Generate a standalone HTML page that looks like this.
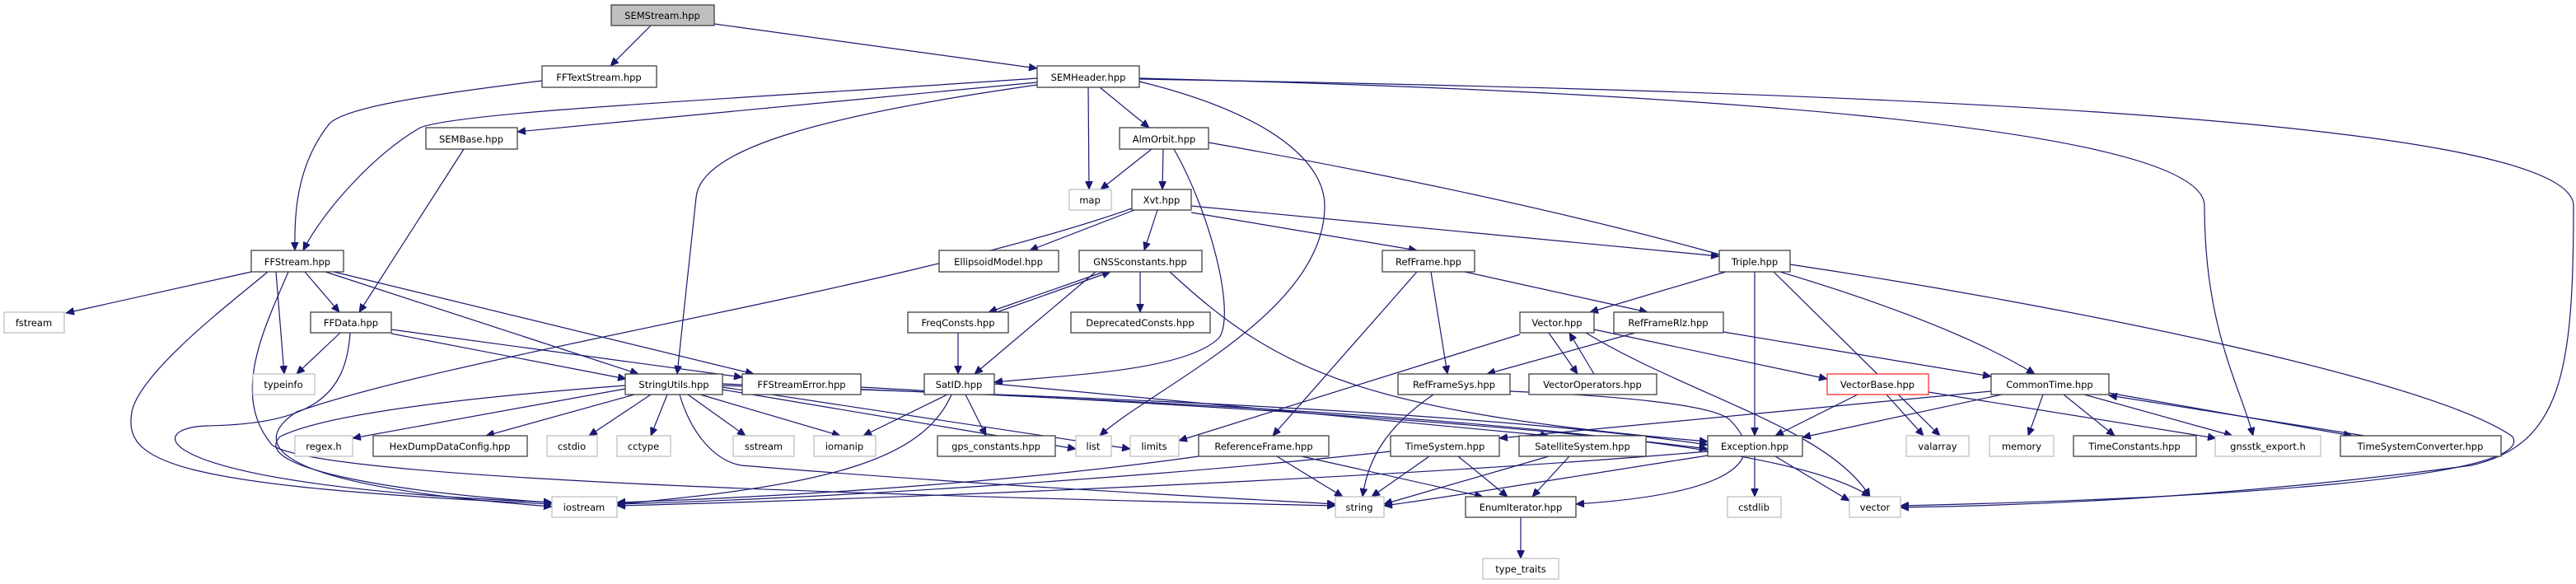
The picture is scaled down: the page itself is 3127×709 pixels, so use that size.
<!DOCTYPE html>
<html><head><meta charset="utf-8"><style>
html,body{margin:0;padding:0;background:#fff;}
svg{display:block;}
text{font-family:"DejaVu Sans","Liberation Sans",sans-serif;font-size:11.5px;text-anchor:middle;fill:#000;}
.n{fill:#fff;stroke:#404040;stroke-width:1.3;}
.g{fill:#fff;stroke:#bfbfbf;stroke-width:1.3;}
.e{fill:none;stroke:#191970;stroke-width:1.2;marker-end:url(#a);}
</style></head><body>
<svg width="3127" height="709" viewBox="0 0 3127 709" xmlns="http://www.w3.org/2000/svg">
<defs><marker id="a" markerUnits="userSpaceOnUse" markerWidth="11" markerHeight="9" refX="10" refY="4.5" orient="auto"><path d="M0,0 L10,4.5 L0,9 z" fill="#191970" stroke="#191970" stroke-width="0.8"/></marker></defs>
<g>
<path class="e" d="M790,31 L741,80"/>
<path class="e" d="M867,29 L1259,83"/>
<path class="e" d="M658,98 C520,115 420,130 400,150 C360,200 357,260 358,304"/>
<path class="e" d="M1259,95 C900,120 560,135 510,155 C450,190 390,260 368,304"/>
<path class="e" d="M1259,100 L628,160"/>
<path class="e" d="M1259,103 C1000,140 850,180 845,240 L822,454"/>
<path class="e" d="M1321,106 L1322,230"/>
<path class="e" d="M1335,106 L1395,155"/>
<path class="e" d="M1383,99 C1550,140 1608,200 1608,250 C1608,380 1400,470 1335,529"/>
<path class="e" d="M1383,95 C2000,110 2676,150 2676,250 C2676,400 2720,470 2735,529"/>
<path class="e" d="M1383,96 C2200,110 3124,140 3124,250 C3124,450 3110,540 3000,565 C2700,605 2450,614 2307,616"/>
<path class="e" d="M1467,173 C1900,250 2300,350 2470,454"/>
<path class="e" d="M563,181 L436,379"/>
<path class="e" d="M1398,181 L1336,230"/>
<path class="e" d="M1412,181 L1411,230"/>
<path class="e" d="M1425,181 C1470,260 1500,380 1480,410 C1440,450 1300,455 1207,464"/>
<path class="e" d="M1377,255 L1250,304"/>
<path class="e" d="M1405,255 L1389,304"/>
<path class="e" d="M1446,258 L1720,304"/>
<path class="e" d="M1446,250 L2087,311"/>
<path class="e" d="M1374,253 C1100,350 560,430 360,500 C300,540 330,590 670,615"/>
<path class="e" d="M305,330 L80,380"/>
<path class="e" d="M325,330 C290,360 170,450 160,500 C150,560 200,590 670,612"/>
<path class="e" d="M335,330 L345,454"/>
<path class="e" d="M350,330 C320,400 280,480 330,540 C380,580 1000,600 1621,614"/>
<path class="e" d="M370,330 L412,379"/>
<path class="e" d="M395,330 L775,454"/>
<path class="e" d="M405,330 L915,454"/>
<path class="e" d="M413,404 L360,454"/>
<path class="e" d="M425,404 C420,480 380,515 250,517 C170,520 180,590 670,610"/>
<path class="e" d="M475,405 L760,460"/>
<path class="e" d="M475,400 L901,458"/>
<path class="e" d="M759,472 L428,532"/>
<path class="e" d="M770,479 L590,529"/>
<path class="e" d="M790,479 L715,529"/>
<path class="e" d="M810,479 L790,529"/>
<path class="e" d="M835,479 L905,529"/>
<path class="e" d="M850,479 L1020,529"/>
<path class="e" d="M759,468 C600,480 400,500 340,530 C300,570 500,600 670,610"/>
<path class="e" d="M825,479 C840,530 870,560 900,565 C1200,590 1500,605 1621,612"/>
<path class="e" d="M877,473 L1306,545"/>
<path class="e" d="M877,470 L1372,545"/>
<path class="e" d="M877,468 C1300,480 1800,500 2073,540"/>
<path class="e" d="M877,466 C1500,490 2150,520 2270,603"/>
<path class="e" d="M1045,470 C1400,490 1800,510 2073,545"/>
<path class="e" d="M1340,330 L1200,379"/>
<path class="e" d="M1210,379 L1348,330"/>
<path class="e" d="M1384,330 L1384,379"/>
<path class="e" d="M1330,330 L1183,454"/>
<path class="e" d="M1420,330 C1550,450 1650,500 2073,536"/>
<path class="e" d="M1163,404 L1163,454"/>
<path class="e" d="M1207,466 L1880,529"/>
<path class="e" d="M1150,479 L1048,529"/>
<path class="e" d="M1172,479 L1197,529"/>
<path class="e" d="M1155,479 C1120,560 1000,590 749,612"/>
<path class="e" d="M1720,330 L1545,529"/>
<path class="e" d="M1737,330 L1757,454"/>
<path class="e" d="M1778,330 L2000,379"/>
<path class="e" d="M2095,330 L1930,379"/>
<path class="e" d="M2130,330 L2130,529"/>
<path class="e" d="M2153,330 L2355,529"/>
<path class="e" d="M2173,321 C2500,370 2950,460 3050,530 C3080,580 2700,605 2307,614"/>
<path class="e" d="M1845,406 L1431,535"/>
<path class="e" d="M1880,404 L1915,454"/>
<path class="e" d="M1935,454 L1905,404"/>
<path class="e" d="M1935,400 L2218,460"/>
<path class="e" d="M1925,404 C2050,480 2220,520 2270,603"/>
<path class="e" d="M1985,404 L1805,454"/>
<path class="e" d="M2092,403 L2417,457"/>
<path class="e" d="M1740,479 C1680,520 1660,560 1654,603"/>
<path class="e" d="M1833,475 C1950,480 2080,490 2100,510 C2150,560 2100,600 1913,612"/>
<path class="e" d="M2255,479 L2155,529"/>
<path class="e" d="M2290,479 L2335,529"/>
<path class="e" d="M2341,476 L2690,532"/>
<path class="e" d="M2417,475 L1820,532"/>
<path class="e" d="M2430,479 L2188,531"/>
<path class="e" d="M2480,479 L2462,529"/>
<path class="e" d="M2505,479 L2567,529"/>
<path class="e" d="M2530,479 L2710,529"/>
<path class="e" d="M2560,477 L2855,529"/>
<path class="e" d="M2870,529 L2560,480"/>
<path class="e" d="M1550,554 L1630,603"/>
<path class="e" d="M1580,554 L1800,603"/>
<path class="e" d="M1455,554 C1200,590 900,605 749,610"/>
<path class="e" d="M1735,554 L1665,603"/>
<path class="e" d="M1770,554 L1830,603"/>
<path class="e" d="M1688,548 C1400,580 1000,605 749,612"/>
<path class="e" d="M1880,554 L1680,612"/>
<path class="e" d="M1905,554 L1860,603"/>
<path class="e" d="M2073,548 C1700,580 1100,605 749,614"/>
<path class="e" d="M2073,553 C1900,580 1750,605 1680,614"/>
<path class="e" d="M2130,554 L2130,603"/>
<path class="e" d="M2155,554 L2245,608"/>
<path class="e" d="M1846,628 L1846,678"/>
</g>
<g>
<rect x="742" y="6" width="125" height="25" fill="#bfbfbf" stroke="#404040" stroke-width="1.3"/><text x="804" y="23">SEMStream.hpp</text>
<rect class="n" x="658" y="80" width="139" height="26"/><text x="727" y="98">FFTextStream.hpp</text>
<rect class="n" x="1259" y="80" width="124" height="26"/><text x="1321" y="98">SEMHeader.hpp</text>
<rect class="n" x="517" y="155" width="111" height="26"/><text x="572" y="173">SEMBase.hpp</text>
<rect class="n" x="1359" y="155" width="108" height="26"/><text x="1413" y="173">AlmOrbit.hpp</text>
<rect class="g" x="1298" y="230" width="51" height="25"/><text x="1323" y="247">map</text>
<rect class="n" x="1374" y="230" width="72" height="25"/><text x="1410" y="247">Xvt.hpp</text>
<rect class="n" x="305" y="304" width="112" height="26"/><text x="361" y="322">FFStream.hpp</text>
<rect class="n" x="1140" y="304" width="145" height="26"/><text x="1212" y="322">EllipsoidModel.hpp</text>
<rect class="n" x="1310" y="304" width="149" height="26"/><text x="1384" y="322">GNSSconstants.hpp</text>
<rect class="n" x="1678" y="304" width="112" height="26"/><text x="1734" y="322">RefFrame.hpp</text>
<rect class="n" x="2087" y="304" width="86" height="26"/><text x="2130" y="322">Triple.hpp</text>
<rect class="g" x="5" y="379" width="73" height="25"/><text x="41" y="396">fstream</text>
<rect class="n" x="377" y="379" width="98" height="25"/><text x="426" y="396">FFData.hpp</text>
<rect class="n" x="1102" y="379" width="122" height="25"/><text x="1163" y="396">FreqConsts.hpp</text>
<rect class="n" x="1300" y="379" width="169" height="25"/><text x="1384" y="396">DeprecatedConsts.hpp</text>
<rect class="n" x="1845" y="379" width="90" height="25"/><text x="1890" y="396">Vector.hpp</text>
<rect class="n" x="1959" y="379" width="133" height="25"/><text x="2025" y="396">RefFrameRlz.hpp</text>
<rect class="g" x="307" y="454" width="75" height="25"/><text x="344" y="471">typeinfo</text>
<rect class="n" x="759" y="454" width="118" height="25"/><text x="818" y="471">StringUtils.hpp</text>
<rect class="n" x="901" y="454" width="144" height="25"/><text x="973" y="471">FFStreamError.hpp</text>
<rect class="n" x="1122" y="454" width="85" height="25"/><text x="1164" y="471">SatID.hpp</text>
<rect class="n" x="1697" y="454" width="136" height="25"/><text x="1765" y="471">RefFrameSys.hpp</text>
<rect class="n" x="1856" y="454" width="155" height="25"/><text x="1933" y="471">VectorOperators.hpp</text>
<rect x="2218" y="454" width="123" height="25" fill="#fff" stroke="#ff3030" stroke-width="1.3"/><text x="2279" y="471">VectorBase.hpp</text>
<rect class="n" x="2417" y="454" width="143" height="25"/><text x="2488" y="471">CommonTime.hpp</text>
<rect class="g" x="358" y="529" width="70" height="25"/><text x="393" y="546">regex.h</text>
<rect class="n" x="453" y="529" width="187" height="25"/><text x="546" y="546">HexDumpDataConfig.hpp</text>
<rect class="g" x="664" y="529" width="61" height="25"/><text x="694" y="546">cstdio</text>
<rect class="g" x="749" y="529" width="65" height="25"/><text x="781" y="546">cctype</text>
<rect class="g" x="890" y="529" width="74" height="25"/><text x="927" y="546">sstream</text>
<rect class="g" x="988" y="529" width="75" height="25"/><text x="1025" y="546">iomanip</text>
<rect class="n" x="1138" y="529" width="143" height="25"/><text x="1209" y="546">gps_constants.hpp</text>
<rect class="g" x="1306" y="529" width="43" height="25"/><text x="1327" y="546">list</text>
<rect class="g" x="1372" y="529" width="59" height="25"/><text x="1401" y="546">limits</text>
<rect class="n" x="1455" y="529" width="158" height="25"/><text x="1534" y="546">ReferenceFrame.hpp</text>
<rect class="n" x="1688" y="529" width="132" height="25"/><text x="1754" y="546">TimeSystem.hpp</text>
<rect class="n" x="1844" y="529" width="154" height="25"/><text x="1921" y="546">SatelliteSystem.hpp</text>
<rect class="n" x="2073" y="529" width="115" height="25"/><text x="2130" y="546">Exception.hpp</text>
<rect class="g" x="2314" y="529" width="76" height="25"/><text x="2352" y="546">valarray</text>
<rect class="g" x="2415" y="529" width="78" height="25"/><text x="2454" y="546">memory</text>
<rect class="n" x="2517" y="529" width="149" height="25"/><text x="2591" y="546">TimeConstants.hpp</text>
<rect class="g" x="2689" y="529" width="128" height="25"/><text x="2753" y="546">gnsstk_export.h</text>
<rect class="n" x="2841" y="529" width="195" height="25"/><text x="2938" y="546">TimeSystemConverter.hpp</text>
<rect class="g" x="670" y="603" width="79" height="25"/><text x="709" y="620">iostream</text>
<rect class="g" x="1621" y="603" width="59" height="25"/><text x="1650" y="620">string</text>
<rect class="n" x="1779" y="603" width="134" height="25"/><text x="1846" y="620">EnumIterator.hpp</text>
<rect class="g" x="2097" y="603" width="65" height="25"/><text x="2129" y="620">cstdlib</text>
<rect class="g" x="2245" y="603" width="62" height="25"/><text x="2276" y="620">vector</text>
<rect class="g" x="1800" y="678" width="92" height="25"/><text x="1846" y="695">type_traits</text>
</g>
</svg>
</body></html>
